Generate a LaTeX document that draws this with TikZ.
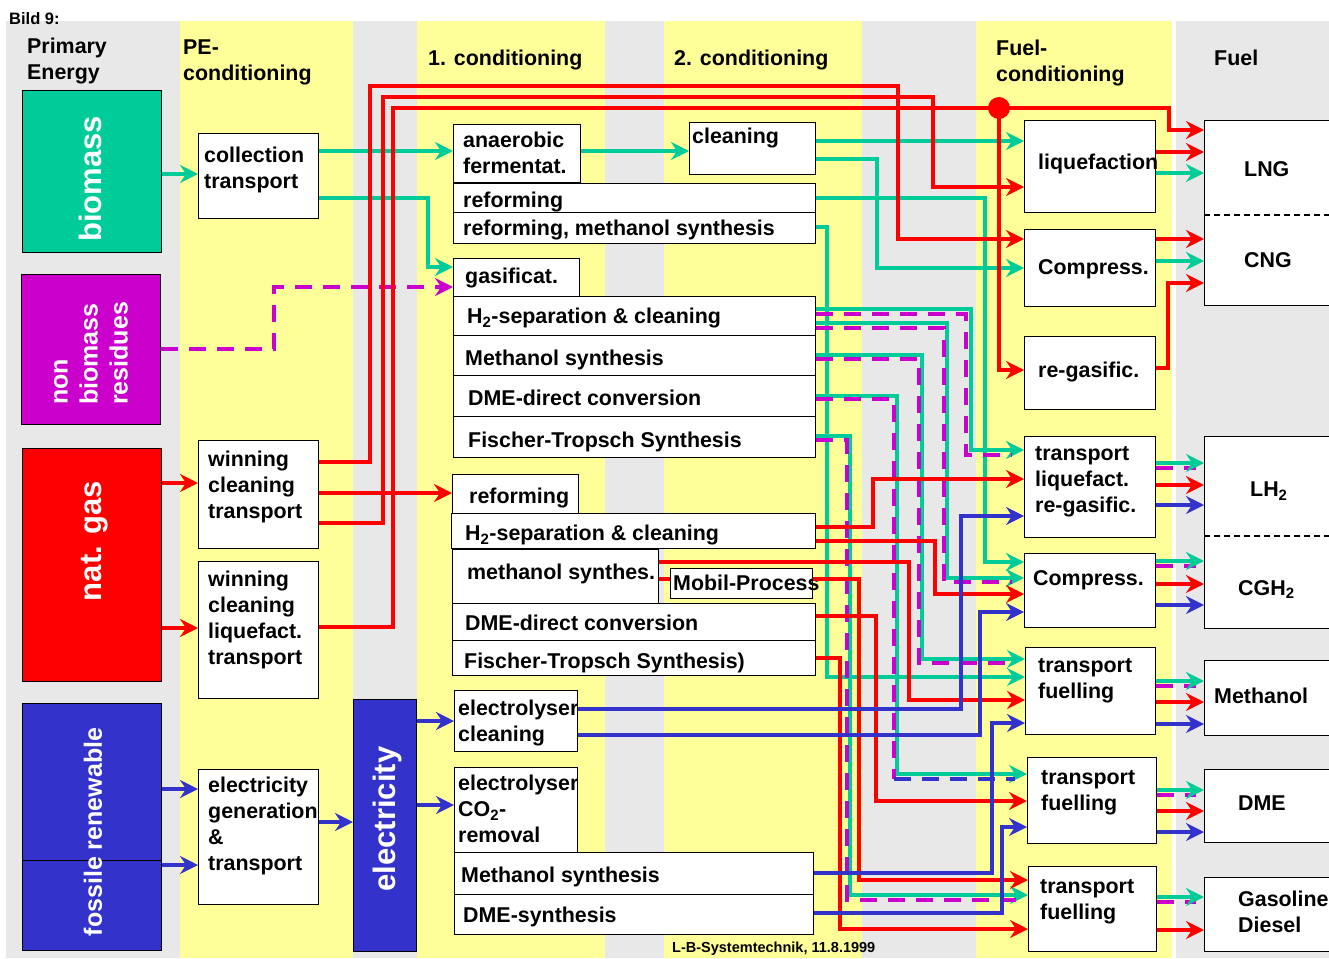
\documentclass[tikz,border=0pt]{standalone}
\usepackage{fontspec}
\setmainfont{Liberation Sans}
\usetikzlibrary{arrows.meta}
\definecolor{bioteal}{RGB}{0,204,153}
\definecolor{resmag}{RGB}{204,0,204}
\definecolor{elblue}{RGB}{51,51,204}
\definecolor{colyellow}{RGB}{255,255,153}
\definecolor{colgray}{RGB}{232,232,232}
\begin{document}
\begin{tikzpicture}[x=1pt,y=-1pt,
  box/.style={draw,fill=white,line width=1.2pt,anchor=north west,inner sep=0pt},
  txt/.style={anchor=north west,inner sep=0pt,align=left,font=\bfseries\fontsize{21.4}{26}\selectfont},
  vtxt/.style={rotate=90,inner sep=0pt,text=white,font=\bfseries\fontsize{31}{36}\selectfont},
  flow/.style={line width=3.5pt,-{Stealth[length=18pt,width=18pt,inset=6pt]}},
  tl/.style={flow,bioteal},
  rl/.style={flow,red},
  bl/.style={flow,elblue},
  ml/.style={flow,resmag,dash pattern=on 17pt off 11pt},
  mstub/.style={line width=3.5pt,resmag,dash pattern=on 17pt off 11pt},
  divider/.style={line width=1.5pt,dash pattern=on 6pt off 4pt}]
\useasboundingbox (0,0) rectangle (1329,958);
% columns
\fill[colgray] (6,21) rectangle (180,958);
\fill[colyellow] (180,21) rectangle (353,958);
\fill[colgray] (353,21) rectangle (417,958);
\fill[colyellow] (417,21) rectangle (605,958);
\fill[colgray] (605,21) rectangle (664,958);
\fill[colyellow] (664,21) rectangle (862,958);
\fill[colgray] (862,21) rectangle (976,958);
\fill[colyellow] (976,21) rectangle (1172,958);
\fill[colgray] (1176,21) rectangle (1329,958);

\node[txt,font=\bfseries\fontsize{16.5}{19}\selectfont] (bild) at (9,12) {Bild 9:};
\node[txt] (hd-pe) at (27,38) {Primary\\Energy};
\node[txt] (hd-pec) at (183,40) {PE-\\conditioning};
\node[txt] (hd-c1) at (428,50) {1. conditioning};
\node[txt] (hd-c2) at (674,50) {2. conditioning};
\node[txt] (hd-fc) at (996,40) {Fuel-\\conditioning};
\node[txt] (hd-f) at (1214,50) {Fuel};
\node[txt,font=\bfseries\fontsize{14.5}{17}\selectfont] (stamp) at (672,942) {L-B-Systemtechnik, 11.8.1999};

% primary energy
\node[box,fill=bioteal,minimum width=139,minimum height=162] (bio) at (22,90) {};
\node[box,fill=resmag,minimum width=139,minimum height=150] (nbr) at (21,274) {};
\node[box,fill=red,minimum width=139,minimum height=233] (ngas) at (22,448) {};
\node[box,fill=elblue,minimum width=139,minimum height=157] (renew) at (22,703) {};
\node[box,fill=elblue,minimum width=139,minimum height=90] (fossil) at (22,860) {};
\node[box,fill=elblue,minimum width=63,minimum height=252] (elec) at (353,699) {};
\node[vtxt] (bio-t) at (90,179) {biomass};
\node[vtxt,font=\bfseries\fontsize{25}{30}\selectfont,align=left,anchor=west] (nbr-t) at (91,405) {non\\biomass\\residues};
\node[vtxt] (ngas-t) at (95,541) {nat. gas};
\node[vtxt,font=\bfseries\fontsize{25}{30}\selectfont] (fren-t) at (93,832) {fossile renewable};
\node[vtxt] (elec-t) at (387,819) {electricity};

% PE-conditioning
\node[box,minimum width=120,minimum height=85] (coll) at (198,133) {};
\node[txt] (coll-t) at (204,147) {collection\\transport};
\node[box,minimum width=120,minimum height=108] (win1) at (198,440) {};
\node[txt] (win1-t) at (208,451) {winning\\cleaning\\transport};
\node[box,minimum width=120,minimum height=137] (win2) at (198,561) {};
\node[txt] (win2-t) at (208,571) {winning\\cleaning\\liquefact.\\transport};
\node[box,minimum width=120,minimum height=135] (egen) at (198,769) {};
\node[txt] (egen-t) at (208,777) {electricity\\generation\\\&\\transport};

% 1. and 2. conditioning
\node[box,minimum width=127,minimum height=58] (anae) at (453,124) {};
\node[txt] (anae-t) at (463,132) {anaerobic\\fermentat.};
\node[box,minimum width=126,minimum height=52] (clean) at (689,122) {};
\node[txt] (clean-t) at (692,128) {cleaning};
\node[box,minimum width=362,minimum height=29] (ref) at (453,183) {};
\node[txt] (ref-t) at (463,192) {reforming};
\node[box,minimum width=362,minimum height=31] (refm) at (453,212) {};
\node[txt] (refm-t) at (463,220) {reforming, methanol synthesis};
\node[box,minimum width=126,minimum height=38] (gas) at (453,258) {};
\node[txt] (gas-t) at (465,268) {gasificat.};
\node[box,minimum width=362,minimum height=39] (hsep) at (453,296) {};
\node[txt] (hsep-t) at (467,308) {H\textsubscript{2}-separation \& cleaning};
\node[box,minimum width=362,minimum height=40] (meth) at (453,335) {};
\node[txt] (meth-t) at (465,350) {Methanol synthesis};
\node[box,minimum width=362,minimum height=41] (dme) at (453,375) {};
\node[txt] (dme-t) at (468,390) {DME-direct conversion};
\node[box,minimum width=362,minimum height=41] (ft) at (453,416) {};
\node[txt] (ft-t) at (468,432) {Fischer-Tropsch Synthesis};

\node[box,minimum width=126,minimum height=39] (nref) at (452,474) {};
\node[txt] (nref-t) at (469,488) {reforming};
\node[box,minimum width=364,minimum height=35] (nhsep) at (451,513) {};
\node[txt] (nhsep-t) at (465,525) {H\textsubscript{2}-separation \& cleaning};
\node[box,minimum width=206,minimum height=54] (nmeth) at (452,549) {};
\node[txt] (nmeth-t) at (467,564) {methanol synthes.};
\node[box,minimum width=142,minimum height=30] (mobil) at (670,568) {};
\node[txt] (mobil-t) at (673,575) {Mobil-Process};
\node[box,minimum width=363,minimum height=37] (ndme) at (452,603) {};
\node[txt] (ndme-t) at (465,615) {DME-direct conversion};
\node[box,minimum width=363,minimum height=35] (nft) at (452,640) {};
\node[txt] (nft-t) at (464,653) {Fischer-Tropsch Synthesis)};

\node[box,minimum width=123,minimum height=61] (ely1) at (454,690) {};
\node[txt] (ely1-t) at (458,700) {electrolyser\\cleaning};
\node[box,minimum width=123,minimum height=85] (ely2) at (454,767) {};
\node[txt] (ely2-t) at (458,775) {electrolyser\\CO\textsubscript{2}-\\removal};
\node[box,minimum width=359,minimum height=42] (emeth) at (454,852) {};
\node[txt] (emeth-t) at (461,867) {Methanol synthesis};
\node[box,minimum width=359,minimum height=40] (edme) at (454,894) {};
\node[txt] (edme-t) at (463,907) {DME-synthesis};

% fuel conditioning
\node[box,minimum width=131,minimum height=92] (liq) at (1024,120) {};
\node[txt] (liq-t) at (1038,154) {liquefaction};
\node[box,minimum width=131,minimum height=77] (comp) at (1024,229) {};
\node[txt] (comp-t) at (1038,259) {Compress.};
\node[box,minimum width=131,minimum height=73] (regas) at (1024,336) {};
\node[txt] (regas-t) at (1038,362) {re-gasific.};
\node[box,minimum width=131,minimum height=101] (tliq) at (1024,436) {};
\node[txt] (tliq-t) at (1035,446) {transport\\liquefact.\\re-gasific.};
\node[box,minimum width=131,minimum height=74] (comp2) at (1024,553) {};
\node[txt] (comp2-t) at (1033,570) {Compress.};
\node[box,minimum width=130,minimum height=87] (fuel1) at (1025,647) {};
\node[txt] (fuel1-t) at (1038,658) {transport\\fuelling};
\node[box,minimum width=129,minimum height=86] (fuel2) at (1027,757) {};
\node[txt] (fuel2-t) at (1041,770) {transport\\fuelling};
\node[box,minimum width=128,minimum height=85] (fuel3) at (1028,866) {};
\node[txt] (fuel3-t) at (1040,879) {transport\\fuelling};

% fuels
\node[box,minimum width=136,minimum height=185] (lngcng) at (1204,120) {};
\draw[divider] (lngcng.west |- 0,215) -- (lngcng.east |- 0,215);
\node[txt] (lng-t) at (1244,161) {LNG};
\node[txt] (cng-t) at (1244,252) {CNG};
\node[box,minimum width=136,minimum height=192] (lhcgh) at (1204,436) {};
\draw[divider] (lhcgh.west |- 0,536) -- (lhcgh.east |- 0,536);
\node[txt] (lh-t) at (1250,482) {LH\textsubscript{2}};
\node[txt] (cgh-t) at (1238,580) {CGH\textsubscript{2}};
\node[box,minimum width=136,minimum height=75] (meoh) at (1204,660) {};
\node[txt] (meoh-t) at (1214,688) {Methanol};
\node[box,minimum width=136,minimum height=73] (dmef) at (1204,769) {};
\node[txt] (dmef-t) at (1238,796) {DME};
\node[box,minimum width=136,minimum height=74] (gasd) at (1204,877) {};
\node[txt] (gasd-t) at (1238,891) {Gasoline\\Diesel};

% biomass chain
\draw[tl] (bio.east |- 0,174) -- (coll.west |- 0,174);
\draw[tl] (coll.east |- 0,151) -- (anae.west |- 0,151);
\draw[tl] (coll.east |- 0,198) -| (428,267) -- (gas.west |- 0,267);
\draw[tl] (anae.east |- 0,151) -- (clean.west |- 0,151);
\draw[tl] (clean.east |- 0,141) -- (liq.west |- 0,141);
\draw[tl] (clean.east |- 0,159) -| (877,268) -- (comp.west |- 0,268);
\draw[tl] (ref.east |- 0,198) -| (985,562) -- (comp2.west |- 0,562);
\draw[tl] (refm.east |- 0,227) -| (827,677) -- (fuel1.west |- 0,677);
\draw[tl] (hsep.east |- 0,309) -| (971,450) -- (tliq.west |- 0,450);
\draw[tl] (hsep.east |- 0,323) -| (947,578) -- (comp2.west |- 0,578);
\draw[tl] (meth.east |- 0,355) -| (922,659) -- (fuel1.west |- 0,659);
\draw[tl] (dme.east |- 0,396) -| (897,774) -- (fuel2.west |- 0,774);
\draw[tl] (ft.east |- 0,436) -| (850,895) -- (fuel3.west |- 0,895);

% residues, dashed
\draw[ml] (nbr.east |- 0,349) -| (274,287) -- (gas.west |- 0,287);
\draw[mstub] (hsep.east |- 0,314) -| (966,455) -- ([xshift=-12pt]tliq.west |- 0,455);
\draw[mstub] (hsep.east |- 0,328) -| (944,582) -- ([xshift=-12pt]comp2.west |- 0,582);
\draw[mstub] (meth.east |- 0,359) -| (919,663) -- ([xshift=-12pt]fuel1.west |- 0,663);
\draw[mstub] (dme.east |- 0,399) -| (894,779);
\draw[mstub,elblue] (894,779) -- ([xshift=-12pt]fuel2.west |- 0,779);
\draw[mstub] (ft.east |- 0,440) -| (847,900) -- ([xshift=-12pt]fuel3.west |- 0,900);
\draw[mstub] (tliq.east |- 0,468) -- ([xshift=-8pt]lhcgh.west |- 0,468);
\draw[mstub] (comp2.east |- 0,566) -- ([xshift=-8pt]lhcgh.west |- 0,566);
\draw[mstub] (fuel1.east |- 0,686) -- ([xshift=-8pt]meoh.west |- 0,686);
\draw[mstub] (fuel2.east |- 0,795) -- ([xshift=-8pt]dmef.west |- 0,795);
\draw[mstub] (fuel3.east |- 0,902) -- ([xshift=-8pt]gasd.west |- 0,902);

% natural gas chain
\draw[rl] (ngas.east |- 0,483) -- (win1.west |- 0,483);
\draw[rl] (ngas.east |- 0,628) -- (win2.west |- 0,628);
\draw[rl] (win1.east |- 0,493) -- (nref.west |- 0,493);
\draw[rl] (win1.east |- 0,462) -| (370,86) -| (898,239) -- (comp.west |- 0,239);
\draw[rl] (win1.east |- 0,523) -| (383,97) -| (933,187) -- (liq.west |- 0,187);
\draw[rl] (win2.east |- 0,627) -| (393,108) -| (1169,130) -- (lngcng.west |- 0,130);
\node[circle,fill=red,minimum size=22pt,inner sep=0pt] (split) at (999,108) {};
\draw[rl] (split.center) |- (regas.west |- 0,370);
\draw[rl] (regas.east |- 0,368) -| (1168,283) -- (lngcng.west |- 0,283);
\draw[rl] (nhsep.east |- 0,527) -| (873,479) -- (tliq.west |- 0,479);
\draw[rl] (nhsep.east |- 0,541) -| (935,594) -- (comp2.west |- 0,594);
\draw[rl] (nmeth.east |- 0,562) -| (909,700) -- (fuel1.west |- 0,700);
\draw[red,line width=3.5pt] (nmeth.east |- 0,579) -- (mobil.west |- 0,579);
\draw[rl] (mobil.east |- 0,579) -| (859,880) -- (fuel3.west |- 0,880);
\draw[rl] (ndme.east |- 0,616) -| (876,801) -- (fuel2.west |- 0,801);
\draw[rl] (nft.east |- 0,658) -| (840,929) -- (fuel3.west |- 0,929);

% electricity chain
\draw[bl] (renew.east |- 0,789) -- (egen.west |- 0,789);
\draw[bl] (fossil.east |- 0,865) -- (egen.west |- 0,865);
\draw[bl] (egen.east |- 0,822) -- (elec.west |- 0,822);
\draw[bl] (elec.east |- 0,721) -- (ely1.west |- 0,721);
\draw[bl] (elec.east |- 0,805) -- (ely2.west |- 0,805);
\draw[bl] (ely1.east |- 0,709) -| (961,516) -- (tliq.west |- 0,516);
\draw[bl] (ely1.east |- 0,735) -| (980,612) -- (comp2.west |- 0,612);
\draw[bl] (emeth.east |- 0,873) -| (992,723) -- (fuel1.west |- 0,723);
\draw[bl] (edme.east |- 0,913) -| (1002,827) -- (fuel2.west |- 0,827);

% into the fuels
\draw[rl] (liq.east |- 0,152) -- (lngcng.west |- 0,152);
\draw[tl] (liq.east |- 0,173) -- (lngcng.west |- 0,173);
\draw[rl] (comp.east |- 0,239) -- (lngcng.west |- 0,239);
\draw[tl] (comp.east |- 0,261) -- (lngcng.west |- 0,261);
\draw[tl] (tliq.east |- 0,463) -- (lhcgh.west |- 0,463);
\draw[rl] (tliq.east |- 0,485) -- (lhcgh.west |- 0,485);
\draw[bl] (tliq.east |- 0,505) -- (lhcgh.west |- 0,505);
\draw[tl] (comp2.east |- 0,561) -- (lhcgh.west |- 0,561);
\draw[rl] (comp2.east |- 0,584) -- (lhcgh.west |- 0,584);
\draw[bl] (comp2.east |- 0,605) -- (lhcgh.west |- 0,605);
\draw[tl] (fuel1.east |- 0,681) -- (meoh.west |- 0,681);
\draw[rl] (fuel1.east |- 0,702) -- (meoh.west |- 0,702);
\draw[bl] (fuel1.east |- 0,724) -- (meoh.west |- 0,724);
\draw[tl] (fuel2.east |- 0,790) -- (dmef.west |- 0,790);
\draw[rl] (fuel2.east |- 0,811) -- (dmef.west |- 0,811);
\draw[bl] (fuel2.east |- 0,832) -- (dmef.west |- 0,832);
\draw[tl] (fuel3.east |- 0,897) -- (gasd.west |- 0,897);
\draw[rl] (fuel3.east |- 0,930) -- (gasd.west |- 0,930);
\end{tikzpicture}
\end{document}
